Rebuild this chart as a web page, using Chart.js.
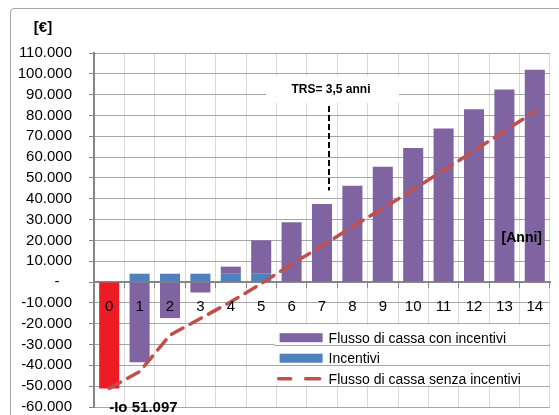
<!DOCTYPE html>
<html>
<head>
<meta charset="utf-8">
<script src="https://cdn.jsdelivr.net/npm/chart.js@4.4.0/dist/chart.umd.min.js"></script>
<style>
  html, body { margin: 0; padding: 0; background: #fff; }
  canvas { display: block; }
</style>
</head>
<body>
<canvas id="c" width="559" height="415"></canvas>
<script>
// anni 0..14
const anni = ['0','1','2','3','4','5','6','7','8','9','10','11','12','13','14'];
// cumulativo con incentivi (totale della barra)
const flussoConIncentivi = [-51097, -38500, -17300, -5000, 7400, 20000, 28700, 37500, 46300, 55400, 64400, 73700, 83000, 92500, 101900];
const incentivi = [0, 4000, 4000, 4000, 4000, 4000, 0, 0, 0, 0, 0, 0, 0, 0, 0];
const flussoSenzaIncentivi = [-51097, -43000, -25500, -17500, -9500, -800, 8600, 17300, 26600, 35400, 44400, 53700, 63000, 72500, 81900];
const yTicks = { min: -60000, max: 110000, step: 10000 };

const FONT = "'Liberation Sans', Arial, sans-serif";
const COL = { viola: '#8064A2', blu: '#4F81BD', rosso: '#ED1C24', linea: '#C0504D' };

// la parte viola sta sopra agli incentivi quando positiva
const segmentoViola = flussoConIncentivi.map((v, i) => v > 0 ? v - incentivi[i] : v);
const coloriViola = flussoConIncentivi.map((_, i) => i === 0 ? COL.rosso : COL.viola);

const fmt = (v) => {
  if (v === 0) return '-   ';
  const s = Math.abs(v).toString().replace(/\B(?=(\d{3})+(?!\d))/g, '.');
  return (v < 0 ? '-' : '') + s;
};

const overlay = {
  id: 'overlay',
  beforeDraw(chart){
    const c = chart.ctx;
    c.save();
    c.strokeStyle = '#A6A6A6';
    c.lineWidth = 1;
    c.beginPath();
    c.moveTo(10.5, 420);
    c.lineTo(10.5, 12);
    c.quadraticCurveTo(10.5, 8.5, 14, 8.5);
    c.lineTo(560, 8.5);
    c.stroke();
    c.restore();
  },
  afterDraw(chart){
    const c = chart.ctx;
    const x = chart.scales.x, y = chart.scales.y;
    const area = chart.chartArea;
    c.save();

    // box legenda
    const lx = x.getPixelForValue(6) - 17;
    const ly1 = y.getPixelForValue(-20000) + 1, ly2 = y.getPixelForValue(-50000) - 1;
    c.fillStyle = '#fff';
    c.fillRect(lx, ly1, area.right - lx - 1, ly2 - ly1);
    c.strokeStyle = '#A6A6A6';
    c.lineWidth = 1;
    [-30000, -40000].forEach(v => {
      const py = Math.round(y.getPixelForValue(v)) + 0.5;
      c.beginPath(); c.moveTo(lx, py); c.lineTo(area.right, py); c.stroke();
    });
    const ds = chart.data.datasets;
    const rows = [ds[1], ds[0], ds[2]];
    c.font = '14px ' + FONT;
    c.textBaseline = 'middle';
    c.textAlign = 'left';
    rows.forEach((d, i) => {
      const ry = ly1 + 13 + i * 20.5;
      if (d.type === 'line'){
        c.strokeStyle = COL.linea;
        c.lineWidth = 3.5;
        c.lineCap = 'round';
        c.beginPath(); c.moveTo(lx + 4, ry); c.lineTo(lx + 16, ry); c.stroke();
        c.beginPath(); c.moveTo(lx + 31, ry); c.lineTo(lx + 45, ry); c.stroke();
      } else {
        c.fillStyle = d.legendColor;
        c.fillRect(lx + 5, ry - 4.5, 43, 9);
      }
      c.fillStyle = '#000';
      c.fillText(d.label, lx + 54, ry + 1);
    });

    // box TRS
    const tx = x.getPixelForValue(7) + 7;
    c.fillStyle = '#fff';
    c.fillRect(tx - 63, y.getPixelForValue(99000), 133, 27);
    c.fillStyle = '#000';
    c.font = 'bold 12px ' + FONT;
    c.textAlign = 'center';
    c.fillText('TRS= 3,5 anni', tx + 2, y.getPixelForValue(92500));
    c.strokeStyle = '#000';
    c.lineWidth = 2;
    c.lineCap = 'butt';
    c.setLineDash([6, 3]);
    c.beginPath();
    c.moveTo(tx, y.getPixelForValue(84500));
    c.lineTo(tx, y.getPixelForValue(44000));
    c.stroke();
    c.setLineDash([]);

    // etichette
    c.font = 'bold 15px ' + FONT;
    c.textAlign = 'center';
    c.fillText('[€]', 43, 28);
    c.font = 'bold 14px ' + FONT;
    c.textAlign = 'right';
    c.fillText('[Anni]', area.right - 8, y.getPixelForValue(21000));
    c.font = 'bold 15px ' + FONT;
    c.textAlign = 'left';
    c.fillText('-Io 51.097', x.getPixelForValue(0), area.bottom + 1);
    c.restore();
  }
};

new Chart(document.getElementById('c'), {
  type: 'bar',
  data: {
    labels: anni,
    datasets: [
      {
        label: 'Incentivi',
        data: incentivi,
        backgroundColor: COL.blu,
        legendColor: COL.blu,
        stack: 'barre',
        order: 1,
        categoryPercentage: 1,
        barPercentage: 0.66
      },
      {
        label: 'Flusso di cassa con incentivi',
        data: segmentoViola,
        backgroundColor: coloriViola,
        legendColor: COL.viola,
        stack: 'barre',
        order: 1,
        categoryPercentage: 1,
        barPercentage: 0.66
      },
      {
        type: 'line',
        label: 'Flusso di cassa senza incentivi',
        data: flussoSenzaIncentivi,
        borderColor: COL.linea,
        borderWidth: 3.5,
        borderDash: [13, 8],
        borderCapStyle: 'round',
        pointRadius: 0,
        tension: 0,
        fill: false,
        stack: 'linea',
        order: 0
      }
    ]
  },
  options: {
    responsive: false,
    animation: false,
    devicePixelRatio: 1,
    layout: { padding: { top: 53, right: 9, bottom: 8, left: 0 } },
    plugins: {
      legend: { display: false },
      tooltip: { enabled: false }
    },
    scales: {
      x: {
        position: { y: 0 },
        stacked: true,
        afterFit: (s) => { s.height = 0; },
        grid: { color: '#D9D9D9', tickLength: 5, tickColor: '#868686', offset: true },
        border: { color: '#868686', width: 2 },
        ticks: { color: '#000', font: { family: FONT, size: 15 }, padding: 11, maxRotation: 0, autoSkip: false, z: 1 }
      },
      y: {
        stacked: true,
        min: yTicks.min,
        max: yTicks.max,
        afterFit: (s) => { s.width = 94; s.paddingTop = 0; s.paddingBottom = 0; },
        grid: { color: '#A6A6A6', tickLength: 5, tickColor: '#868686' },
        border: { color: '#868686', width: 2 },
        ticks: {
          stepSize: yTicks.step,
          autoSkip: false,
          color: '#000',
          padding: 17,
          font: { family: FONT, size: 15 },
          callback: (v) => fmt(v)
        }
      }
    }
  },
  plugins: [overlay]
});
</script>
</body>
</html>
